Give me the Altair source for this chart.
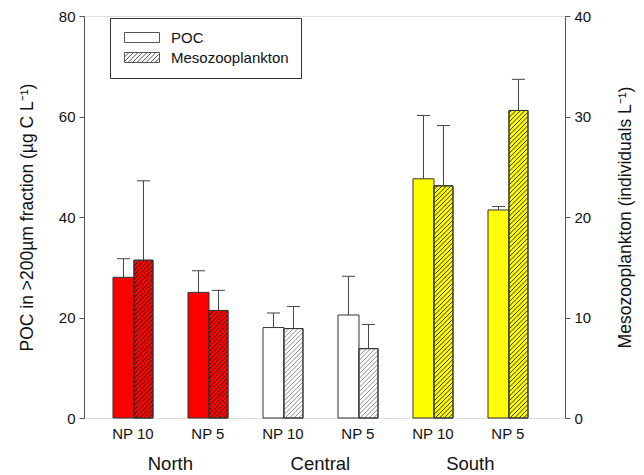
import altair as alt
import pandas as pd
import numpy as np

# ---- data ----
regions = ["North", "North", "Central", "Central", "South", "South"]
treatments = ["NP 10", "NP 5", "NP 10", "NP 5", "NP 10", "NP 5"]
poc_mean = [28.0, 25.0, 18.0, 20.5, 47.6, 41.4]
poc_sd = [3.7, 4.3, 2.9, 7.7, 12.6, 0.7]
meso_mean = [15.7, 10.7, 8.9, 6.9, 23.1, 30.6]
meso_sd = [7.9, 2.0, 2.2, 2.4, 6.0, 3.1]
region_names = ["North", "Central", "South"]
region_fill = ["#ff0000", "#ffffff", "#ffff00"]
hatch_color = ["#330000", "#8c8c8c", "#333300"]
series_names = ["POC", "Mesozooplankton"]

# ---- layout constants ----
W, H = 481, 402
XMIN, XMAX = 1 / 3, 6.7467
POC_W, MESO_W, CAP = 0.28, 0.253, 0.087
POC_MAX, MESO_MAX = 80, 40
FONT = "Liberation Sans"
EDGE = "#333333"

pos = np.arange(1, len(regions) + 1, dtype=float)
df = pd.DataFrame({
    "region": regions,
    "treatment": treatments,
    "pos": pos,
    "poc": poc_mean,
    "poc_top": np.array(poc_mean) + np.array(poc_sd),
    "meso": meso_mean,
    "meso_top": np.array(meso_mean) + np.array(meso_sd),
})
df["poc_x0"] = df["pos"] - POC_W
df["poc_x1"] = df["pos"]
df["poc_c"] = df["pos"] - POC_W / 2
df["meso_x0"] = df["pos"]
df["meso_x1"] = df["pos"] + MESO_W
df["meso_c"] = df["pos"] + MESO_W / 2
df["pc0"] = df["poc_c"] - CAP
df["pc1"] = df["poc_c"] + CAP
df["mc0"] = df["meso_c"] - CAP
df["mc1"] = df["meso_c"] + CAP
df["lab_x"] = df["pos"] - 0.015
df["zero"] = 0.0

# hatch lines of the mesozooplankton bars, derived from bar extents
px_x = W / (XMAX - XMIN)
px_y = H / MESO_MAX
step = 4.5
rows = []
for _, r in df.iterrows():
    bw = MESO_W * px_x
    bh = r["meso"] * px_y
    d = -bw
    while d < bh:
        us = max(0.0, -d)
        ue = min(bw, bh - d)
        if ue > us:
            rows.append({
                "region": r["region"],
                "hx0": r["meso_x0"] + us / px_x,
                "hx1": r["meso_x0"] + ue / px_x,
                "hy0": (us + d) / px_y,
                "hy1": (ue + d) / px_y,
            })
        d += step
hatch = pd.DataFrame(rows)

groups = pd.DataFrame({
    "region": region_names,
    "gx": [df[df.region == g]["pos"].mean() - 0.015 for g in region_names],
})

# legend symbol paths: unit = 5 px, box 35 x 10 px starting at the symbol's left edge
rect_path = "M-1,-1H6V1H-1Z"
hatch_path = rect_path
s = 0.9
u = -3.0
while u < 6:
    a0 = max(u, -1.0)
    a1 = min(u + 2.0, 6.0)
    if a1 > a0:
        y0 = 1 - (a0 - u)
        y1 = 1 - (a1 - u)
        hatch_path += f"M{a0:.3f},{y0:.3f}L{a1:.3f},{y1:.3f}"
    u += s
legend_df = pd.DataFrame({"series": series_names})

xs = alt.Scale(domain=[XMIN, XMAX], nice=False, zero=False)
fill_scale = alt.Scale(domain=region_names, range=region_fill)
hatch_scale = alt.Scale(domain=region_names, range=hatch_color)
poc_scale = alt.Scale(domain=[0, POC_MAX], nice=False)
meso_scale = alt.Scale(domain=[0, MESO_MAX], nice=False)

axis_common = dict(
    grid=False, tickCount=5, tickSize=5, domainColor="#555555", tickColor="#555555",
    labelFont=FONT, labelFontSize=15, labelColor="#111111", labelPadding=4,
    titleFont=FONT, titleFontSize=17.5, titleFontWeight="normal", titleColor="#111111",
)
left_axis = alt.Axis(values=[0, 20, 40, 60, 80], titlePadding=22,
                     title="POC in >200µm fraction (µg C L⁻¹)", **axis_common)
right_axis = alt.Axis(values=[0, 10, 20, 30, 40], orient="right", titlePadding=44,
                      titleAngle=270, titleBaseline="bottom",
                      title="Mesozooplankton (individuals L⁻¹)", **axis_common)

base = alt.Chart(df)

poc_bars = base.mark_rect(stroke=EDGE, strokeWidth=1).encode(
    x=alt.X("poc_x0:Q", scale=xs, axis=None),
    x2="poc_x1:Q",
    y=alt.Y("poc:Q", scale=poc_scale, axis=left_axis),
    y2="zero:Q",
    fill=alt.Fill("region:N", scale=fill_scale, legend=None),
)
poc_err = base.mark_rule(color="#444444", strokeWidth=1).encode(
    x="poc_c:Q", y="poc:Q", y2="poc_top:Q")
poc_cap = base.mark_rule(color="#444444", strokeWidth=1).encode(
    x="pc0:Q", x2="pc1:Q", y="poc_top:Q")

legend_pts = alt.Chart(legend_df).mark_point(opacity=0, filled=False, color="#444444").encode(
    x=alt.value(0), y=alt.value(0),
    shape=alt.Shape("series:N",
                    scale=alt.Scale(domain=series_names, range=[rect_path, hatch_path]),
                    legend=alt.Legend(
                        title=None, orient="none", legendX=26, legendY=2,
                        strokeColor="#333333", padding=12, symbolSize=100,
                        symbolOpacity=1, symbolStrokeWidth=1, symbolStrokeColor="#555555",
                        symbolFillColor="white", labelFont=FONT, labelFontSize=15,
                        labelColor="#111111", labelOffset=34, rowPadding=4,
                    )),
)

poc_layer = alt.layer(poc_bars, poc_err, poc_cap, legend_pts)

meso_bars = base.mark_rect(stroke=EDGE, strokeWidth=1).encode(
    x=alt.X("meso_x0:Q", scale=xs, axis=None),
    x2="meso_x1:Q",
    y=alt.Y("meso:Q", scale=meso_scale, axis=right_axis),
    y2="zero:Q",
    fill=alt.Fill("region:N", scale=fill_scale, legend=None),
)
meso_hatch = alt.Chart(hatch).mark_rule(strokeWidth=1).encode(
    x="hx0:Q", x2="hx1:Q", y="hy0:Q", y2="hy1:Q",
    color=alt.Color("region:N", scale=hatch_scale, legend=None),
)
meso_outline = base.mark_rect(stroke=EDGE, strokeWidth=1, fillOpacity=0).encode(
    x="meso_x0:Q", x2="meso_x1:Q", y="meso:Q", y2="zero:Q")
meso_err = base.mark_rule(color="#444444", strokeWidth=1).encode(
    x="meso_c:Q", y="meso:Q", y2="meso_top:Q")
meso_cap = base.mark_rule(color="#444444", strokeWidth=1).encode(
    x="mc0:Q", x2="mc1:Q", y="meso_top:Q")

meso_layer = alt.layer(meso_bars, meso_hatch, meso_outline, meso_err, meso_cap)

np_labels = base.mark_text(font=FONT, fontSize=15, color="#111111", baseline="middle").encode(
    x="lab_x:Q", y=alt.value(H + 16), text="treatment:N")
grp_labels = alt.Chart(groups).mark_text(font=FONT, fontSize=18.5, color="#111111", baseline="middle").encode(
    x="gx:Q", y=alt.value(H + 46), text="region:N")

chart = alt.layer(poc_layer, meso_layer, np_labels, grp_labels).resolve_scale(
    y="independent", fill="shared", color="independent", shape="independent"
).properties(
    width=W, height=H,
    autosize=alt.AutoSizeParams(type="none"),
    padding={"left": 84, "top": 16, "right": 79, "bottom": 57},
).configure_view(stroke=None).configure(background="white")

chart.save("out.html", embed_options={"renderer": "svg", "actions": False})
